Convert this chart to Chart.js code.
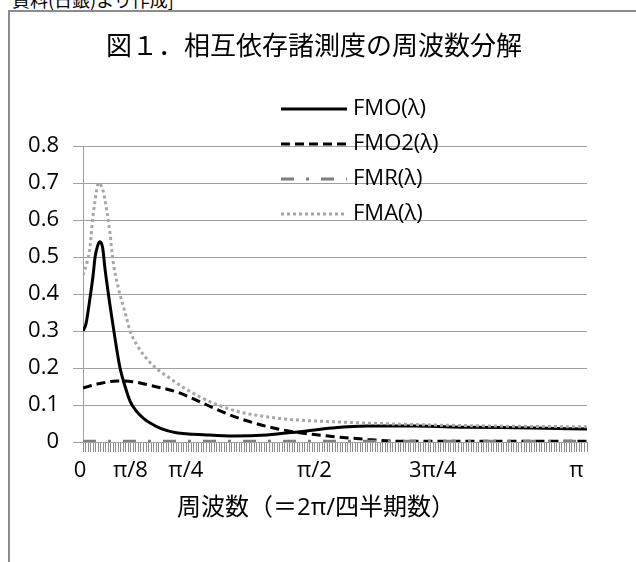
<!DOCTYPE html>
<html>
<head>
<meta charset="utf-8">
<script src="https://cdn.jsdelivr.net/npm/chart.js@4.4.1/dist/chart.umd.min.js"></script>
<style>
  html, body { margin: 0; padding: 0; background: #fff; }
  #wrap { position: relative; width: 636px; height: 562px; overflow: hidden; }
  #frame { position: absolute; left: 8px; top: 10px; width: 700px; height: 700px; border: 2px solid #8c8c8c; }
  #note { position: absolute; left: 12px; top: -14px; font: 18px 'Noto Sans CJK JP'; color: #000; white-space: nowrap; }
  #title { position: absolute; left: 0; width: 628px; top: 25px; text-align: center; font: 26px 'Noto Sans CJK JP'; color: #000; }
  #xtitle { position: absolute; left: 0; width: 632px; top: 487px; text-align: center; font: 24px 'Open Sans', 'Noto Sans CJK JP'; color: #000; }
  canvas { position: absolute; left: 0; top: 0; }
</style>
</head>
<body>
<div id="wrap">
  <div id="note">資料(日銀)より作成]</div>
  <div id="frame"></div>
  <canvas id="myChart" width="636" height="562"></canvas>
  <div id="title">図１．相互依存諸測度の周波数分解</div>
  <div id="xtitle">周波数（＝2π/四半期数）</div>
</div>
<script>
// frequency axis: 0 .. N steps (0 .. π)
const N = 200;
const xTickIndex = [0, 20, 42, 93, 140, 197];
const xTickText = ['0', 'π/8', 'π/4', 'π/2', '3π/4', 'π'];

// FMO(λ)
const fmoX = [0, 1.2, 2.8, 4.0, 4.8, 5.8, 6.7, 7.8, 8.7, 10.7, 12.7, 14.7, 16.7, 18.7, 21, 24, 27, 31, 37, 49, 60, 73, 86, 99, 113, 132, 152, 179, 200];
const fmoY = [0.30, 0.32, 0.39, 0.45, 0.50, 0.53, 0.541, 0.525, 0.47, 0.37, 0.28, 0.20, 0.15, 0.11, 0.085, 0.064, 0.05, 0.036, 0.025, 0.019, 0.016, 0.019, 0.028, 0.038, 0.043, 0.043, 0.040, 0.038, 0.035];

// FMO2(λ)
const fmo2X = [0, 6.7, 13.5, 19.8, 26.6, 37.3, 49.2, 59.5, 73, 86, 102, 113, 126, 146, 200];
const fmo2Y = [0.146, 0.158, 0.165, 0.163, 0.153, 0.135, 0.10, 0.07, 0.042, 0.025, 0.013, 0.007, 0.002, 0.002, 0.002];

// FMR(λ)
const fmrX = [0, 200];
const fmrY = [0.002, 0.002];

// FMA(λ)
const fmaX = [0, 1.5, 2.8, 3.8, 4.8, 6.2, 7.9, 9.4, 10.7, 11.9, 13.9, 16.7, 18.7, 21.4, 26.6, 34.5, 46.4, 59.5, 73, 86, 99, 113, 139, 165, 200];
const fmaY = [0.451, 0.483, 0.528, 0.60, 0.654, 0.70, 0.68, 0.627, 0.565, 0.49, 0.42, 0.35, 0.30, 0.262, 0.215, 0.172, 0.122, 0.086, 0.068, 0.059, 0.055, 0.051, 0.046, 0.043, 0.041];

function pts(xs, ys) {
  return xs.map((x, i) => ({ x: x, y: ys[i] }));
}

const legendPlugin = {
  id: 'boxLegend',
  afterDraw(chart) {
    const ctx = chart.ctx;
    chart.data.datasets.forEach((ds, i) => {
      const y = 109 + 35 * i;
      ctx.save();
      ctx.strokeStyle = ds.borderColor;
      ctx.lineWidth = ds.borderWidth;
      ctx.setLineDash(ds.borderDash || []);
      ctx.beginPath();
      ctx.moveTo(281, y);
      ctx.lineTo(347, y);
      ctx.stroke();
      ctx.setLineDash([]);
      ctx.fillStyle = '#000';
      ctx.font = "22px 'Open Sans'";
      ctx.textBaseline = 'middle';
      ctx.fillText(ds.label, 353, y);
      ctx.restore();
    });
  }
};

new Chart('myChart', {
  type: 'line',
  data: {
    datasets: [
      { label: 'FMO(λ)', data: pts(fmoX, fmoY), borderColor: '#000', borderWidth: 3, order: 4 },
      { label: 'FMO2(λ)', data: pts(fmo2X, fmo2Y), borderColor: '#000', borderWidth: 3, borderDash: [9, 5], order: 3 },
      { label: 'FMR(λ)', data: pts(fmrX, fmrY), borderColor: '#7f7f7f', borderWidth: 3, borderDash: [13, 12, 3, 12], order: 2 },
      { label: 'FMA(λ)', data: pts(fmaX, fmaY), borderColor: '#a6a6a6', borderWidth: 3, borderDash: [3, 3], order: 1 }
    ]
  },
  options: {
    responsive: false,
    animation: false,
    layout: { padding: { left: 0, top: 146, right: 49, bottom: 60 } },
    elements: {
      point: { radius: 0 },
      line: { cubicInterpolationMode: 'monotone', fill: false }
    },
    plugins: {
      legend: { display: false },
      title: { display: false },
      tooltip: { enabled: false }
    },
    scales: {
      x: {
        type: 'linear',
        min: 0,
        max: N,
        afterBuildTicks: s => { s.ticks = Array.from({ length: N + 1 }, (_, i) => ({ value: i })); },
        afterFit: s => { s.height = 60; },
        grid: { drawOnChartArea: false, drawTicks: true, tickLength: 10, color: '#8c8c8c', lineWidth: 1 },
        border: { color: '#a0a0a0', width: 1 },
        ticks: {
          autoSkip: false,
          maxRotation: 0,
          padding: 6,
          labelOffset: -3,
          color: '#000',
          font: { family: 'Open Sans', size: 22 },
          callback: v => {
            const k = xTickIndex.indexOf(v);
            return k < 0 ? '' : xTickText[k];
          }
        }
      },
      y: {
        min: 0,
        max: 0.8,
        afterFit: s => { s.width = 83; },
        grid: { color: '#a0a0a0', lineWidth: 1, tickLength: 10 },
        border: { color: '#a0a0a0', width: 1 },
        ticks: {
          stepSize: 0.1,
          padding: 14,
          color: '#000',
          font: { family: 'Open Sans', size: 22 }
        }
      }
    }
  },
  plugins: [legendPlugin]
});
</script>
</body>
</html>
